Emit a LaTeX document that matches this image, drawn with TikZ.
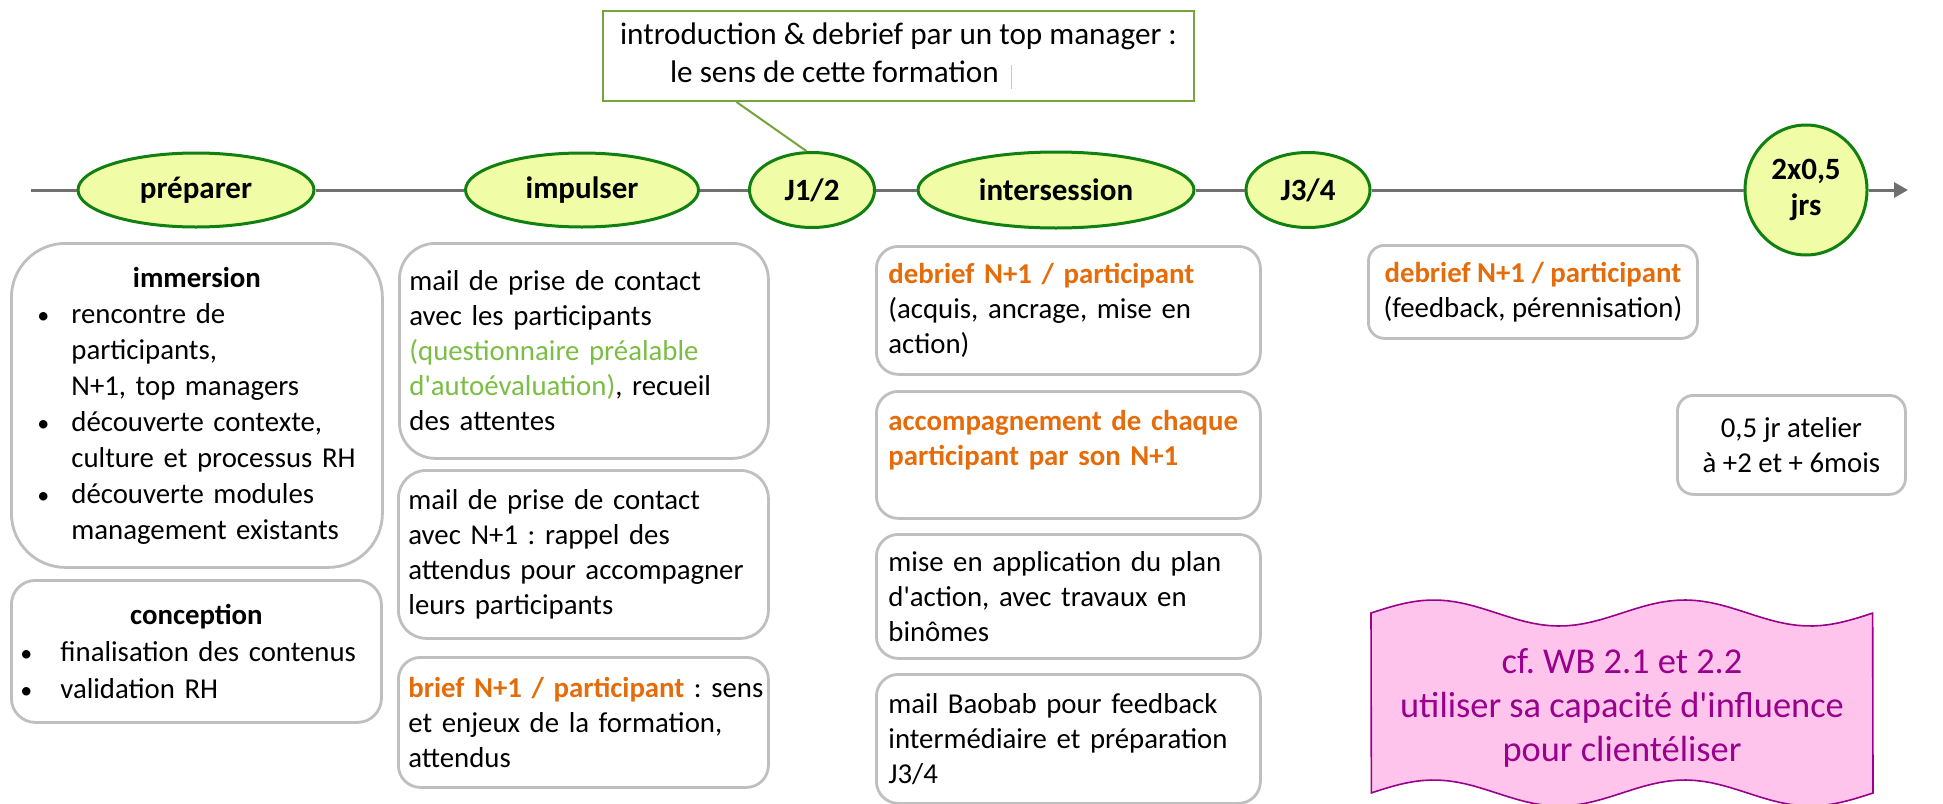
\documentclass[tikz,border=0pt]{standalone}
\usepackage{fontspec}
\setmainfont{Carlito}
\usetikzlibrary{shapes.geometric,arrows.meta}
\definecolor{phasefill}{RGB}{240,253,166}
\definecolor{phasedraw}{RGB}{16,128,16}
\definecolor{linegray}{RGB}{112,112,112}
\definecolor{cardgray}{RGB}{191,191,191}
\definecolor{accorange}{RGB}{228,108,10}
\definecolor{accgreen}{RGB}{122,190,68}
\definecolor{notegreen}{RGB}{118,163,58}
\definecolor{wavefill}{RGB}{255,196,236}
\definecolor{wavedraw}{RGB}{153,0,140}
\definecolor{cursorgray}{RGB}{200,200,200}
\frenchspacing
\newcommand{\hl}[1]{\textcolor{accorange}{\textbf{#1}}}
\newcommand{\itm}[2][17pt]{\makebox[#1][l]{\fontsize{12}{12}\selectfont\textbullet}#2}
\newcommand{\q}{\textquotesingle}
\begin{document}
\begin{tikzpicture}[x=0.5pt,y=-0.5pt,inner sep=0pt,
phase/.style={ellipse,draw=phasedraw,fill=phasefill,line width=1.5pt,align=center,font=\bfseries\fontsize{15.5}{18}\selectfont},
card/.style={draw=cardgray,fill=white,line width=1.4pt,anchor=north west,inner xsep=6pt,align=left,font=\fontsize{14.4}{17.5}\selectfont},
note/.style={draw=notegreen,fill=white,line width=1pt,anchor=north west,align=left,font=\fontsize{15.6}{19}\selectfont},
timeline/.style={draw=linegray,line width=1.5pt},
wavebox/.style={draw=wavedraw,fill=wavefill,line width=0.8pt}]
\useasboundingbox (0,0) rectangle (1943,803);

\node[phase,minimum width=118pt,minimum height=37pt] (prep) at (196,190) {préparer};
\node[phase,minimum width=116.5pt,minimum height=37pt] (imp) at (582,190) {impulser};
\node[phase,minimum width=62.5pt,minimum height=37.5pt] (j12) at (812,190) {J1/2};
\node[phase,minimum width=138pt,minimum height=38pt] (inter) at (1056,190) {intersession};
\node[phase,minimum width=62pt,minimum height=37.5pt] (j34) at (1308,190) {J3/4};
\node[phase,minimum width=61pt,minimum height=65pt] (jrs) at (1806,190) {2x0,5\\jrs};
\coordinate (tl0) at (31,190);
\coordinate (tl1) at (1908,190);
\draw[timeline] (tl0) -- (prep);
\foreach \a/\b in {prep/imp,imp/j12,j12/inter,inter/j34,j34/jrs}
  \draw[timeline] (\a) -- (\b);
\draw[timeline,-{Triangle[length=7pt,width=7.5pt]}] (jrs) -- (tl1);

\node[note,minimum width=295.5pt,minimum height=45pt] (callout) at (602,10) {introduction \& debrief par un top manager :\\\hspace*{25pt}le sens de cette formation\hspace{6pt}{\color{cursorgray}\rule[-3pt]{0.6pt}{12pt}}};
\draw[notegreen,line width=1pt] ([xshift=-81pt]callout.south) -- (j12.98);

\node[card,rounded corners=27pt,inner xsep=13pt,text width=159.5pt,minimum height=162pt,font=\fontsize{14.4}{18}\selectfont] (immersion) at (10,242) {{\centering\textbf{immersion}\par}
\itm{rencontre de}\\
\hspace*{17pt}participants,\\
\hspace*{17pt}N+1, top managers\\
\itm{découverte contexte,}\\
\hspace*{17pt}culture et processus RH\\
\itm{découverte modules}\\
\hspace*{17pt}management existants};
\node[card,rounded corners=12pt,inner xsep=4.5pt,text width=176pt,minimum height=71pt,font=\fontsize{14.4}{18.5}\selectfont] (conception) at (10,579) {{\centering\textbf{conception}\par}
\itm[20pt]{finalisation des contenus}\\
\itm[20pt]{validation RH}};

\node[card,rounded corners=18pt,inner xsep=5pt,text width=174.5pt,minimum height=107.5pt] (mailpart) at (398,242) {mail de prise de contact\\avec les participants\\\textcolor{accgreen}{(questionnaire préalable}\\\textcolor{accgreen}{d\q autoévaluation)}, recueil\\des attentes};
\node[card,rounded corners=14pt,inner xsep=5pt,text width=175pt,minimum height=84pt] (mailnp) at (397,469) {mail de prise de contact\\avec N+1 : rappel des\\attendus pour accompagner\\leurs participants};
\node[card,rounded corners=11pt,inner xsep=5pt,text width=175pt,minimum height=65pt] (brief) at (397,656) {\mbox{\hl{brief N+1 / participant} : sens}\\et enjeux de la formation,\\attendus};

\node[card,rounded corners=11pt,text width=180pt,minimum height=64pt] (debrief) at (875,245) {\hl{debrief N+1 / participant}\\(acquis, ancrage, mise en\\action)};
\node[card,rounded corners=11pt,text width=180pt,minimum height=63.5pt] (accomp) at (875,390) {\hl{accompagnement de chaque}\\\hl{participant par son N+1}\\\mbox{}};
\node[card,rounded corners=11pt,text width=180pt,minimum height=62pt] (plan) at (875,533) {mise en application du plan\\d\q action, avec travaux en\\binômes};
\node[card,rounded corners=11pt,text width=180pt,minimum height=64.5pt] (baobab) at (875,673) {mail Baobab pour feedback\\intermédiaire et préparation\\J3/4};

\node[card,align=center,rounded corners=8pt,minimum width=164.5pt,minimum height=46.5pt] (feedback) at (1367,244) {\hl{debrief N+1 / participant}\\(feedback, pérennisation)};
\node[card,align=center,rounded corners=8pt,minimum width=114pt,minimum height=49.5pt] (atelier) at (1676,394) {0,5 jr atelier\\à +2 et + 6mois};

\draw[wavebox] plot[domain=0:1,samples=60] ({1371+502*\x},{613-13*sin(720*\x)}) -- plot[domain=1:0,samples=60] ({1371+502*\x},{793-13*sin(720*\x)}) -- cycle;
\node[font=\fontsize{18.2}{22}\selectfont,text=wavedraw,align=center] (wavetext) at (1622,708) {cf. WB 2.1 et 2.2\\utiliser sa capacité d\q influence\\pour clientéliser};
\end{tikzpicture}
\end{document}
